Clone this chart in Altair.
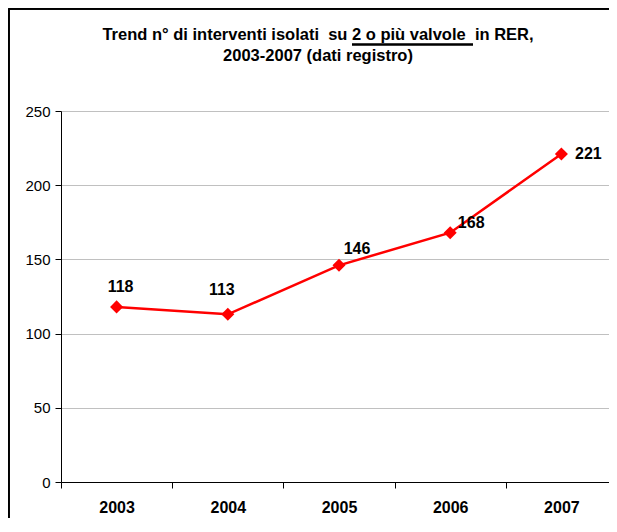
import altair as alt
import pandas as pd

years = ["2003", "2004", "2005", "2006", "2007"]
values = [118, 113, 146, 168, 221]
y_ticks = [0, 50, 100, 150, 200, 250]
title_lines = ["Trend n° di interventi isolati\u00a0 su 2 o più valvole\u00a0 in RER,",
               "2003-2007 (dati registro)"]

df = pd.DataFrame({"year": years, "value": values})

FONT = "Liberation Sans"
W, H = 548, 371
PAD_L, PAD_T, PAD_R, PAD_B = 53, 103, 0, 36

x_enc = alt.X("year:N", sort=years, title=None,
              scale=alt.Scale(paddingInner=0, paddingOuter=0, range=[0, 556]),
              axis=alt.Axis(labelAngle=0, labelFont=FONT, labelFontSize=16,
                            labelFontWeight="bold", labelColor="black",
                            domainColor="black", tickColor="black", tickSize=6,
                            tickBand="extent", labelPadding=11, grid=False))
y_enc = alt.Y("value:Q", title=None,
              scale=alt.Scale(domain=[0, 250], nice=False),
              axis=alt.Axis(values=y_ticks, labelFont=FONT, labelFontSize=15,
                            labelColor="black", domainColor="black",
                            tickColor="black", tickSize=6, labelPadding=5,
                            grid=True, gridColor="#c0c0c0", gridWidth=1))

base = alt.Chart(df)

line = base.mark_line(color="#ff0000", strokeWidth=2.5).encode(x=x_enc, y=y_enc)
points = base.mark_point(shape="diamond", filled=True, color="#ff0000",
                         size=170, opacity=1).encode(x=x_enc, y=y_enc)

label_offsets = {"2003": (4, -20), "2004": (-6, -24), "2005": (18, -16),
                 "2006": (21, -10), "2007": (27, 0)}
labels = []
for yr in years:
    dx, dy = label_offsets[yr]
    labels.append(
        base.transform_filter(alt.datum.year == yr)
        .mark_text(font=FONT, fontSize=16, fontWeight="bold", color="black",
                   dx=dx, dy=dy, align="center", baseline="middle")
        .encode(x=x_enc, y=y_enc, text="value:Q")
    )

# chart frame (left and top edges visible in the reference)
frame_left = alt.Chart(df).mark_rule(color="black", strokeWidth=1.5).encode(
    x=alt.value(-PAD_L + 0.75), x2=alt.value(-PAD_L + 0.75),
    y=alt.value(-PAD_T + 0.75), y2=alt.value(H + PAD_B))
frame_top = alt.Chart(df).mark_rule(color="black", strokeWidth=1.5).encode(
    x=alt.value(-PAD_L + 0.75), x2=alt.value(W + PAD_R),
    y=alt.value(-PAD_T + 0.75), y2=alt.value(-PAD_T + 0.75))
# underline of "2 o più valvole"
underline = alt.Chart(df).mark_rule(color="black", strokeWidth=1.5).encode(
    x=alt.value(291), x2=alt.value(412), y=alt.value(-66.5), y2=alt.value(-66.5))

chart = alt.layer(line, points, *labels, frame_left, frame_top, underline).properties(
    width=W, height=H,
    autosize=alt.AutoSizeParams(type="none"),
    padding={"left": PAD_L, "top": PAD_T, "right": PAD_R, "bottom": PAD_B},
    title=alt.TitleParams(text=title_lines, font=FONT, fontSize=16.5,
                          fontWeight="bold", color="black", anchor="middle",
                          frame="group", offset=-56, dx=-17, lineHeight=21),
).configure_view(strokeOpacity=0).configure(background="white")

chart.save("out.html", embed_options={"renderer": "svg", "actions": False})
